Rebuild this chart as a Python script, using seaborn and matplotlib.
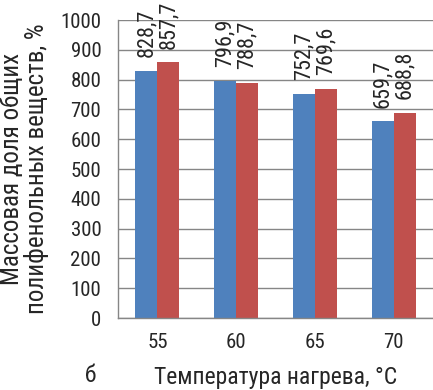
import pandas as pd
import numpy as np
import matplotlib
matplotlib.use("Agg")
import matplotlib.pyplot as plt
import seaborn as sns

# data
temps = ["55", "60", "65", "70"]
series_1 = [828.7, 796.9, 752.7, 659.7]
series_2 = [857.7, 788.7, 769.6, 688.8]
series_names = ["1", "2"]
y_ticks = list(range(0, 1001, 100))

df = pd.DataFrame({
    "temp": temps * 2,
    "value": series_1 + series_2,
    "series": [series_names[0]] * 4 + [series_names[1]] * 4,
})

sns.set_theme(style="white")
plt.rcParams["font.family"] = ["Roboto Condensed", "DejaVu Sans"]

fig = plt.figure(figsize=(4.33, 3.90), dpi=100)
ax = fig.add_axes([0.2725, 0.1846, 0.7275, 0.7641])

sns.barplot(data=df, x="temp", y="value", hue="series",
            palette=["#4F81BD", "#C0504D"], width=0.56, gap=0,
            saturation=1, linewidth=0, legend=False, ax=ax)

for cont in ax.containers:
    labels = [f"{b.get_height():.1f}".replace(".", ",") for b in cont]
    ax.bar_label(cont, labels=labels, rotation=90, padding=10, fontsize=16)

ax.set_ylim(0, 1000)
ax.set_yticks(y_ticks)
ax.set_xlim(-0.5, 3.5)
ax.yaxis.grid(True, color="#868686", linewidth=1)
ax.set_axisbelow(True)
for side in ["top", "right"]:
    ax.spines[side].set_visible(False)
for side in ["left", "bottom"]:
    ax.spines[side].set_color("#868686")
    ax.spines[side].set_linewidth(1)
ax.tick_params(axis="y", length=0, pad=12, labelsize=15)
ax.tick_params(axis="x", length=0, pad=11, labelsize=15)

ax.set_xlabel("Температура нагрева, °C", fontsize=17, labelpad=10)
ax.set_ylabel("Массовая доля общих\nполифенольных веществ, %", fontsize=18,
              labelpad=8, linespacing=1.0)
fig.text(0.208, 0.038, "б", fontsize=17, ha="center", va="center")

fig.savefig("out.png", dpi=100)
